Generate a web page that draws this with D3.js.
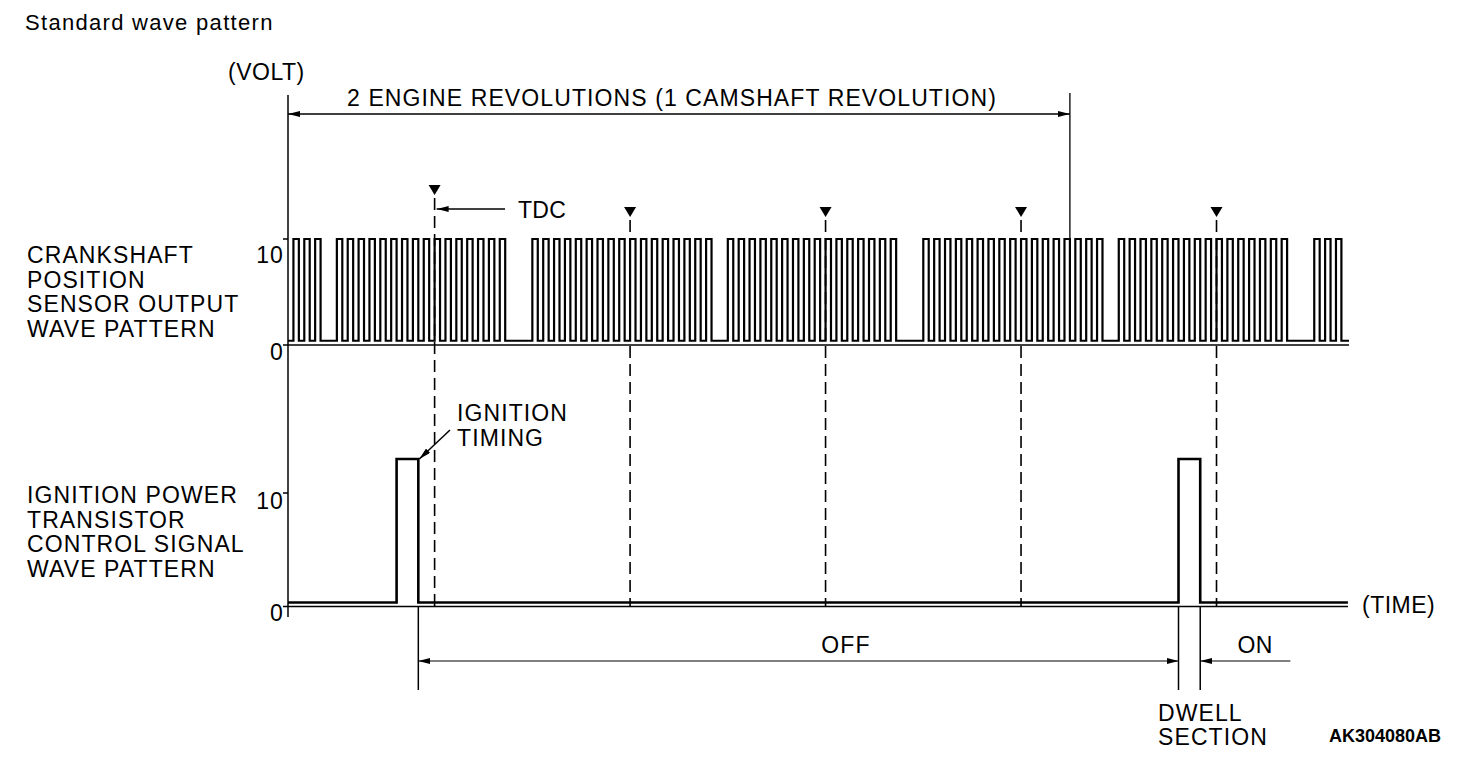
<html>
<head>
<title>standard wave pattern</title>
<script src="https://cdn.jsdelivr.net/npm/d3@7"></script>
<style>
body { margin: 0; background: white; }
text { font-family: "Liberation Sans", Arial, sans-serif; font-size: 23px; fill: black; letter-spacing: 1.1px; }
</style>
</head>
<body>
<svg></svg>
</body>
<script>
// crank angle (deg) of each TDC mark, 0 = first TDC
var tdc_angles = [0, 180, 360, 540, 720];

// crankshaft sensor: teeth groups (first tooth angle, number of teeth shown)
var crank_group_start = [-130, -90, 90, 270, 450, 630, 810];
var crank_group_teeth = [3, 16, 17, 16, 17, 16, 3];
var tooth_pitch = 10;
var tooth_high = 5;
var crank_volts = [0.4, 10];   // low, high

// ignition power transistor signal
var ign_on = [-35, 685];
var ign_off = [-15, 705];
var ign_volts = [0.35, 13];    // low, high

var volt_ticks = [0, 10];
var left_labels = ["CRANKSHAFT", "POSITION", "SENSOR OUTPUT", "WAVE PATTERN"];
var ign_labels = ["IGNITION POWER", "TRANSISTOR", "CONTROL SIGNAL", "WAVE PATTERN"];

var time_start = -135, time_end = 842;
var rev_end = 585;      // end of 2 revolution dimension
var on_end = 788;

var svg = d3.select("svg").attr("width", 1472).attr("height", 764);

var x = d3.scaleLinear().domain([time_start, time_end]).range([288, 1349]);
var y_crank = d3.scaleLinear().domain([0, 10]).range([345, 239]);
var y_ign = d3.scaleLinear().domain([0, 10]).range([606.5, 493]);

// arrow heads
var defs = svg.append("defs");
defs.append("marker").attr("id", "arr").attr("viewBox", "0 0 12 6")
  .attr("refX", 12).attr("refY", 3).attr("markerWidth", 12).attr("markerHeight", 6)
  .attr("markerUnits", "userSpaceOnUse").attr("orient", "auto-start-reverse")
  .append("path").attr("d", "M0,0 L12,3 L0,6 Z").style("fill", "black");

function line(x1, y1, x2, y2, w) {
  return svg.append("line").attr("x1", x1).attr("y1", y1).attr("x2", x2).attr("y2", y2)
    .style("stroke", "black").style("stroke-width", w || 1.3);
}
function label(tx, ty, s, anchor) {
  return svg.append("text").attr("x", tx).attr("y", ty).attr("text-anchor", anchor || "start").text(s);
}

// titles
label(25, 30, "Standard wave pattern").style("font-size", "22px").style("letter-spacing", "1.3px");
label(228, 80, "(VOLT)").style("letter-spacing", "0.5px");

// left axis and ticks
line(x(time_start), 95, x(time_start), 617, 1.5);
volt_ticks.forEach(function(v) {
  line(x(time_start) - 5, y_crank(v), x(time_start), y_crank(v), 1.5);
  label(x(time_start) - 4, y_crank(v) + (v ? 24 : 15), v, "end");
  line(x(time_start) - 5, y_ign(v), x(time_start), y_ign(v), 1.5);
  label(x(time_start) - 4, y_ign(v) + (v ? 16 : 14), v, "end");
});

// zero lines
line(x(time_start), y_crank(0), x(time_end), y_crank(0), 1.5);
line(x(time_start), y_ign(0), x(time_end) - 1, y_ign(0), 1.5);

// side labels
left_labels.forEach(function(s, i) { label(27, 263 + i * 24.5, s); });
ign_labels.forEach(function(s, i) { label(27, 503 + i * 24.5, s); });

// crankshaft pulse train
var pts = [[time_start, crank_volts[0]]];
crank_group_start.forEach(function(a0, g) {
  d3.range(crank_group_teeth[g]).forEach(function(k) {
    var a = a0 + k * tooth_pitch;
    pts.push([a, crank_volts[0]], [a, crank_volts[1]], [a + tooth_high, crank_volts[1]], [a + tooth_high, crank_volts[0]]);
  });
});
pts.push([time_end, crank_volts[0]]);
svg.append("path")
  .attr("d", d3.line().x(function(d) { return x(d[0]); }).y(function(d) { return y_crank(d[1]); })(pts))
  .style("fill", "none").style("stroke", "black").style("stroke-width", 2.2).style("stroke-linejoin", "miter");

// ignition signal
var ipts = [[time_start, ign_volts[0]]];
ign_on.forEach(function(a, i) {
  ipts.push([a, ign_volts[0]], [a, ign_volts[1]], [ign_off[i], ign_volts[1]], [ign_off[i], ign_volts[0]]);
});
ipts.push([time_end - 1, ign_volts[0]]);
svg.append("path")
  .attr("d", d3.line().x(function(d) { return x(d[0]); }).y(function(d) { return y_ign(d[1]); })(ipts))
  .style("fill", "none").style("stroke", "black").style("stroke-width", 2.6);

// TDC markers and dashed lines
tdc_angles.forEach(function(a, i) {
  var top = i == 0 ? 185 : 207;
  svg.append("path")
    .attr("d", "M" + (x(a) - 6) + "," + top + " L" + (x(a) + 6) + "," + top + " L" + x(a) + "," + (top + 10) + " Z")
    .style("fill", "black");
  line(x(a), top + 13, x(a), y_ign(0), 1.6).style("stroke-dasharray", "12,6");
});

// TDC callout
line(505, 209, x(0) + 2, 209, 1.3).attr("marker-end", "url(#arr)");
label(518, 218, "TDC").style("letter-spacing", "0.3px");

// 2 revolutions dimension
line(x(rev_end), 93, x(rev_end), y_crank(10), 1.3);
line(x(time_start), 114, x(rev_end), 114, 1.3)
  .attr("marker-start", "url(#arr)").attr("marker-end", "url(#arr)");
label(672, 106, "2 ENGINE REVOLUTIONS (1 CAMSHAFT REVOLUTION)", "middle");

// ignition timing callout
line(450, 430, x(ign_off[0]) + 1, y_ign(ign_volts[1]), 1.5).attr("marker-end", "url(#arr)");
label(457, 421, "IGNITION");
label(457, 446, "TIMING");

// OFF / ON dimensions
[ign_off[0], ign_on[1], ign_off[1]].forEach(function(a) {
  line(x(a), y_ign(0), x(a), 690, 1.5);
});
line(x(ign_off[0]), 661, x(ign_on[1]), 661, 1)
  .attr("marker-start", "url(#arr)").attr("marker-end", "url(#arr)");
line(x(on_end), 661, x(ign_off[1]), 661, 1).attr("marker-end", "url(#arr)");
label(846, 653, "OFF", "middle");
label(1255, 653, "ON", "middle").style("letter-spacing", "0.3px");
label(1362, 613, "(TIME)").style("letter-spacing", "0.5px");
label(1158, 721, "DWELL");
label(1158, 745, "SECTION");
label(1441, 742, "AK304080AB", "end").style("font-weight", "bold").style("font-size", "18px").style("letter-spacing", "0px");
</script>
</html>
